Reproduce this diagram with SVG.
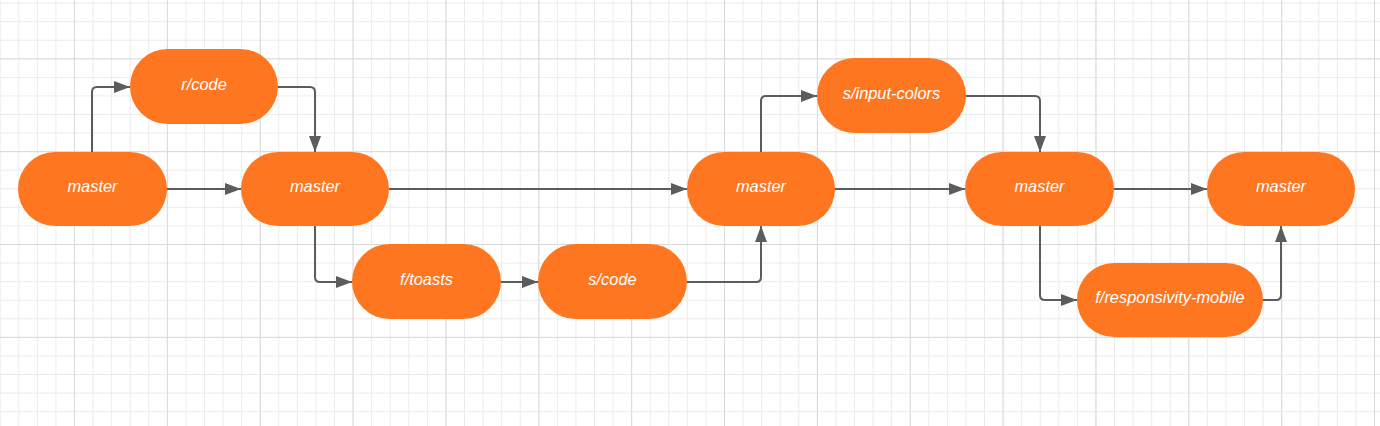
<svg xmlns="http://www.w3.org/2000/svg" width="1380" height="426" viewBox="0 0 1380 426">
<defs>
<pattern id="minor" x="-18.86" y="-34.56" width="18.572" height="18.572" patternUnits="userSpaceOnUse">
<path d="M0.5,0 V18.572 M0,0.5 H18.572" stroke="#ebebeb" stroke-width="1" fill="none"/>
</pattern>
<pattern id="major" x="-18.86" y="-34.56" width="92.86" height="92.86" patternUnits="userSpaceOnUse">
<path d="M0.5,0 V92.86 M0,0.5 H92.86" stroke="#dadada" stroke-width="1" fill="none"/>
</pattern>
<marker id="arr" markerUnits="userSpaceOnUse" markerWidth="16" markerHeight="12" refX="16" refY="6" orient="auto">
<path d="M0,0 L16,6 L0,12 z" fill="#5c5c5c"/>
</marker>
<style>
.n{fill:#fe761f}
.t{fill:#ffffff;font-family:"Liberation Sans",Arial,sans-serif;font-style:italic;font-size:16.4px;text-anchor:middle}
.c{fill:none;stroke:#5c5c5c;stroke-width:2;marker-end:url(#arr)}
</style>
</defs>
<rect width="1380" height="426" fill="#ffffff"/>
<rect width="1380" height="426" fill="url(#minor)"/>
<rect width="1380" height="426" fill="url(#major)"/>
<g id="connectors">
<path class="c" d="M92,152 V92 Q92,87 97,87 H130"/>
<path class="c" d="M278,87 H310 Q315,87 315,92 V152"/>
<path class="c" d="M167,189 H241"/>
<path class="c" d="M315,226 V277 Q315,282 320,282 H352"/>
<path class="c" d="M501,282 H538"/>
<path class="c" d="M687,282 H756 Q761,282 761,277 V226"/>
<path class="c" d="M389,189 H687"/>
<path class="c" d="M761,152 V101 Q761,96 766,96 H817"/>
<path class="c" d="M966,96 H1035 Q1040,96 1040,101 V152"/>
<path class="c" d="M835,189 H965"/>
<path class="c" d="M1114,189 H1207"/>
<path class="c" d="M1040,226 V295 Q1040,300 1045,300 H1077"/>
<path class="c" d="M1263,300 H1276 Q1281,300 1281,295 V226"/>
</g>
<g id="master1"><rect class="n" x="18" y="152" width="149" height="74" rx="37"/><text class="t" x="92.5" y="191.5">master</text></g>
<g id="rcode"><rect class="n" x="130" y="49" width="148" height="75" rx="37.5"/><text class="t" x="204" y="90">r/code</text></g>
<g id="master2"><rect class="n" x="241" y="152" width="148" height="74" rx="37"/><text class="t" x="315" y="191.5">master</text></g>
<g id="ftoasts"><rect class="n" x="352" y="244" width="149" height="75" rx="37.5"/><text class="t" x="426.5" y="285">f/toasts</text></g>
<g id="scode"><rect class="n" x="538" y="244" width="149" height="75" rx="37.5"/><text class="t" x="612.5" y="285">s/code</text></g>
<g id="master3"><rect class="n" x="687" y="152" width="148" height="74" rx="37"/><text class="t" x="761" y="191.5">master</text></g>
<g id="sinputcolors"><rect class="n" x="817" y="58" width="149" height="75" rx="37.5"/><text class="t" x="891.5" y="99">s/input-colors</text></g>
<g id="master4"><rect class="n" x="965" y="152" width="149" height="74" rx="37"/><text class="t" x="1039.5" y="191.5">master</text></g>
<g id="master5"><rect class="n" x="1207" y="152" width="148" height="74" rx="37"/><text class="t" x="1281" y="191.5">master</text></g>
<g id="fresponsivitymobile"><rect class="n" x="1077" y="263" width="186" height="74" rx="37"/><text class="t" x="1170" y="303">f/responsivity-mobile</text></g>
</svg>
